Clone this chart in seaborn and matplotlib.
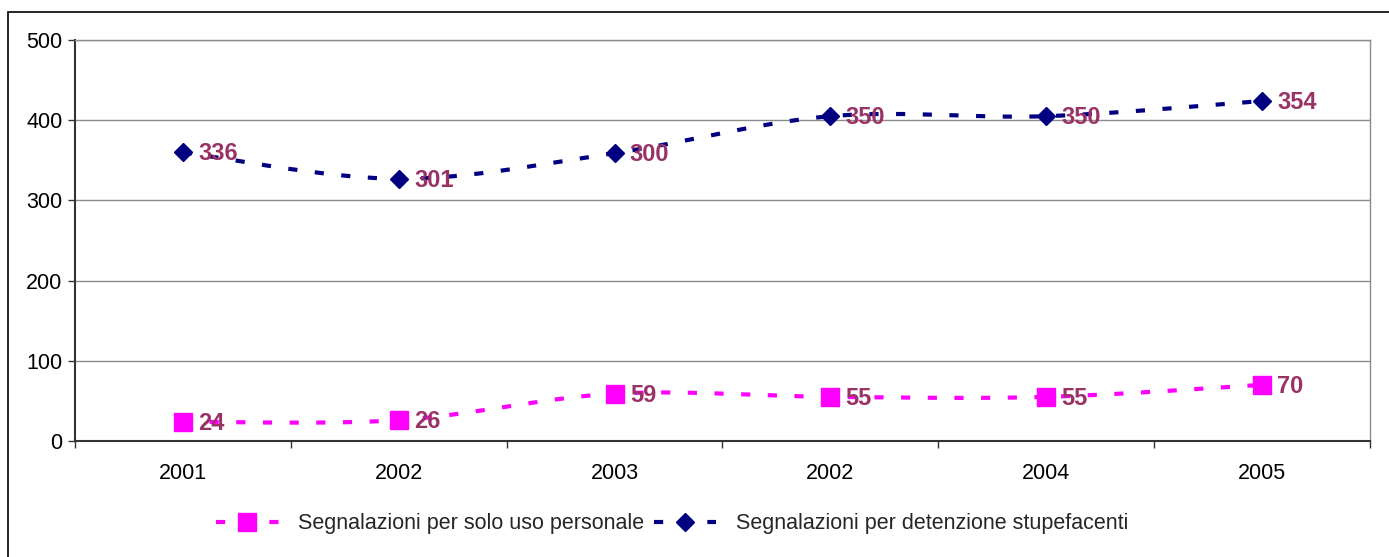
import numpy as np
import matplotlib
matplotlib.use("Agg")
import matplotlib.pyplot as plt
import seaborn as sns
from matplotlib.lines import Line2D
from matplotlib.patches import Rectangle

# ---- data ----
years = ["2001", "2002", "2003", "2002", "2004", "2005"]
uso_personale = [24, 26, 59, 55, 55, 70]
detenzione = [336, 301, 300, 350, 350, 354]
y_ticks = [0, 100, 200, 300, 400, 500]
series_names = ["Segnalazioni per solo uso personale",
                "Segnalazioni per detenzione stupefacenti"]

PINK = "#FF00FF"
NAVY = "#000080"
LABEL = "#993366"

sns.set_theme(style="white")
plt.rcParams["font.family"] = ["Liberation Sans", "DejaVu Sans"]

W, H = 1389, 557
fig = plt.figure(figsize=(W / 100, H / 100), dpi=100)
ax = fig.add_axes([75 / W, 1 - 441 / H, (1370 - 75) / W, (441 - 40) / H])

x = np.arange(len(years), dtype=float)
pink = np.array(uso_personale, float)
blue = pink + np.array(detenzione, float)   # stacked line chart


def smooth(xs, ys, n=40):
    """Excel-style smoothed line (cubic Bezier, Catmull-Rom control points)."""
    P = np.column_stack([xs, ys])
    out = []
    for i in range(len(P) - 1):
        p0 = P[i - 1] if i > 0 else P[i]
        p1, p2 = P[i], P[i + 1]
        p3 = P[i + 2] if i + 2 < len(P) else P[i + 1]
        c1 = p1 + (p2 - p0) / 6
        c2 = p2 - (p3 - p1) / 6
        t = np.linspace(0, 1, n)[:, None]
        seg = (1 - t) ** 3 * p1 + 3 * (1 - t) ** 2 * t * c1 + 3 * (1 - t) * t ** 2 * c2 + t ** 3 * p2
        if i > 0:
            seg = seg[1:]
        out.append(seg)
    out = np.vstack(out)
    return out[:, 0], out[:, 1]


dash = (0, (2.2, 4.2))
LW = 3.0
TICK_FS = 15.5
LABEL_FS = 17

for ys, col in [(pink, PINK), (blue, NAVY)]:
    sx, sy = smooth(x, ys)
    sns.lineplot(x=sx, y=sy, sort=False, estimator=None, color=col,
                 linewidth=LW, linestyle=dash, ax=ax, zorder=3)

ax.plot(x, pink, linestyle="none", marker="s", markersize=13, color=PINK,
        markeredgecolor=PINK, zorder=4, clip_on=False)
ax.plot(x, blue, linestyle="none", marker="D", markersize=9.5, color=NAVY,
        markeredgecolor=NAVY, zorder=4, clip_on=False)

for xi, yi, v in zip(x, pink, uso_personale):
    ax.annotate(str(v), (xi, yi), xytext=(11, -1), textcoords="offset points",
                ha="left", va="center", color=LABEL, fontsize=LABEL_FS,
                fontweight="bold", zorder=5)
for xi, yi, v in zip(x, blue, detenzione):
    ax.annotate(str(v), (xi, yi), xytext=(11, -1), textcoords="offset points",
                ha="left", va="center", color=LABEL, fontsize=LABEL_FS,
                fontweight="bold", zorder=5)

# ---- axes ----
ax.set_xlim(-0.5, len(years) - 0.5)
ax.set_ylim(0, 500)
ax.set_yticks(y_ticks)
ax.set_yticklabels([str(v) for v in y_ticks], fontsize=TICK_FS, color="black")
ax.set_xticks(x)
ax.set_xticklabels(years, fontsize=TICK_FS, color="black")
ax.set_xticks(np.arange(-0.5, len(years), 1.0), minor=True)
ax.tick_params(axis="x", which="major", length=0, pad=16)
ax.tick_params(axis="x", which="minor", length=5, width=1, color="#333333",
               direction="out", bottom=True)
ax.tick_params(axis="y", which="major", length=5, width=1, color="#333333",
               direction="out", left=True, pad=4)
ax.grid(axis="y", color="#8c8c8c", linewidth=1)
ax.grid(axis="x", visible=False)
ax.set_axisbelow(True)
for side in ["left", "bottom"]:
    ax.spines[side].set_color("#333333")
    ax.spines[side].set_linewidth(1.5)
for side in ["top", "right"]:
    ax.spines[side].set_color("#8c8c8c")
    ax.spines[side].set_linewidth(1)
ax.set_xlabel("")
ax.set_ylabel("")

# ---- legend ----
handles = [
    Line2D([], [], color=PINK, linewidth=LW, linestyle=dash, marker="s",
           markersize=13, markeredgecolor=PINK),
    Line2D([], [], color=NAVY, linewidth=LW, linestyle=dash, marker="D",
           markersize=9.5, markeredgecolor=NAVY),
]
fig.legend(handles, series_names, loc="center", ncol=2,
           bbox_to_anchor=(672 / W, 1 - 524 / H), frameon=False,
           fontsize=TICK_FS, handlelength=2.9, handletextpad=0.9,
           columnspacing=0.45)

# outer chart border
fig.add_artist(Rectangle((8 / W, -0.1), 1.2, 1.1 - 12 / H,
                         transform=fig.transFigure, fill=False,
                         edgecolor="black", linewidth=1.2, clip_on=False))

fig.savefig("out.png", dpi=100)
